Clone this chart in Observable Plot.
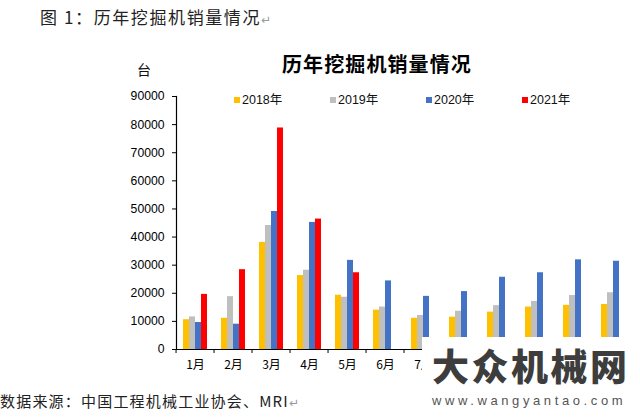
<!DOCTYPE html>
<html>
<head>
<meta charset="utf-8">
<script src="https://cdn.jsdelivr.net/npm/d3@7"></script>
<script src="https://cdn.jsdelivr.net/npm/@observablehq/plot@0.6"></script>
<style>
  html, body { margin: 0; padding: 0; background: #fff; }
  #wrap { position: relative; width: 640px; height: 417px; overflow: hidden; background: #fff; color: #111; }
  .abs { position: absolute; white-space: nowrap; }
  #hdr { left: 40px; top: 8px; font: 17px/17px "Noto Sans CJK SC", sans-serif; letter-spacing: 1.6px; color: #222; }
  .pm { color: #999; font-family: "DejaVu Sans", sans-serif; font-size: 12px; letter-spacing: 0; }
  #title { left: 282px; top: 54px; font: 700 20px/20px "Noto Sans CJK SC", sans-serif; letter-spacing: 1.1px; color: #000; }
  #unit { left: 137px; top: 62px; font: 14px/14px "Noto Sans CJK SC", sans-serif; color: #111; }
  #legend { left: 234px; top: 92px; display: flex; font: 12.5px/16px "Liberation Sans", "Noto Sans CJK SC", sans-serif; color: #111; }
  #legend .it { width: 96px; display: flex; align-items: center; }
  #legend .sw { width: 6px; height: 6px; margin-right: 2px; display: inline-block; }
  #chart { left: 0; top: 80px; }
  #footer { left: 0; top: 393px; font: 15px/16px "Noto Sans CJK SC", sans-serif; letter-spacing: 1.2px; color: #222; }
  #wm { left: 422px; top: 337px; width: 218px; height: 80px; background: #fff; }
  #wm1 { left: 10px; top: 10px; font: 900 37px/37px "Noto Sans CJK SC", sans-serif; color: #3d3d3d; letter-spacing: 2.5px; }
  #wm2 { left: 10px; top: 57px; font: 13px/13px "Liberation Sans", sans-serif; letter-spacing: 3.6px; color: #555; }
</style>
</head>
<body>
<div id="wrap">
  <div id="hdr" class="abs">图 1：历年挖掘机销量情况<span class="pm">↵</span></div>
  <div id="title" class="abs">历年挖掘机销量情况</div>
  <div id="unit" class="abs">台</div>
  <div id="legend" class="abs"></div>
  <div id="chart" class="abs"></div>
  <div id="footer" class="abs">数据来源：中国工程机械工业协会、MRI<span class="pm">↵</span></div>
  <div id="wm" class="abs">
    <div id="wm1" class="abs">大众机械网</div>
    <div id="wm2" class="abs">www.wangyantao.com</div>
  </div>
</div>
<script>
// ---- data ----
const months = ["1月","2月","3月","4月","5月","6月","7月","8月","9月","10月","11月","12月"];
const visibleMonthLabels = ["1月","2月","3月","4月","5月","6月","7月"]; // 8月-12月 are hidden under the watermark in the reference
const years = ["2018年","2019年","2020年","2021年"];
const colors = ["#FFC000","#BFBFBF","#4472C4","#FF0000"];
const sales2018 = [10600, 11100, 38100, 26300, 19300, 14000, 11100, 11500, 13300, 15100, 15700, 16000];
const sales2019 = [11600, 18800, 44100, 28200, 18600, 15100, 12100, 13600, 15600, 17100, 19200, 20200];
const sales2020 = [9600, 9000, 49100, 45200, 31700, 24400, 18900, 20600, 25700, 27300, 31900, 31400];
const sales2021 = [19600, 28400, 78800, 46400, 27300];
const yTicks = [0, 10000, 20000, 30000, 40000, 50000, 60000, 70000, 80000, 90000];

const series = [sales2018, sales2019, sales2020, sales2021];
const data = [];
months.forEach((m, i) => {
  years.forEach((yr, j) => {
    const v = series[j][i];
    if (v != null) data.push({month: m, year: yr, value: v});
  });
});

// ---- legend ----
const legend = document.getElementById("legend");
years.forEach((yr, j) => {
  const it = document.createElement("div");
  it.className = "it";
  const sw = document.createElement("span");
  sw.className = "sw";
  sw.style.background = colors[j];
  it.appendChild(sw);
  it.appendChild(document.createTextNode(yr));
  legend.appendChild(it);
});

// ---- chart ----
const W = 640, H = 310, mL = 170, mR = 3, mT = 16, mB = 41;
const step = (W - mL - mR) / months.length;

const chart = Plot.plot({
  width: W,
  height: H,
  marginTop: mT,
  marginBottom: mB,
  marginLeft: mL,
  marginRight: mR,
  style: {background: "transparent", fontFamily: "'Liberation Sans', Arial, sans-serif", fontSize: "12px", color: "#000"},
  fx: {domain: months, padding: 0, label: null},
  x: {domain: years, paddingInner: 0, paddingOuter: 0.78, axis: null},
  y: {domain: [0, 90000], label: null},
  color: {domain: years, range: colors},
  marks: [
    Plot.barY(data, {fx: "month", x: "year", y: "value", fill: "year"}),
    Plot.ruleY([0], {stroke: "#000", strokeWidth: 1.2}),
    Plot.frame({anchor: "left", facetAnchor: "left", stroke: "#000", strokeWidth: 1.2}),
    Plot.axisY({ticks: yTicks, tickSize: 4, tickPadding: 8, tickFormat: d => String(d), label: null, fontSize: 12.2}),
    Plot.axisFx({anchor: "bottom", tickSize: 4, fill: "none", dx: -step / 2, label: null}),
    Plot.axisFx({anchor: "bottom", ticks: visibleMonthLabels, tickSize: 0, tickPadding: 11, label: null, fontFamily: "'Noto Sans CJK SC', sans-serif", fontSize: 12})
  ]
});
document.getElementById("chart").appendChild(chart);
</script>
</body>
</html>
